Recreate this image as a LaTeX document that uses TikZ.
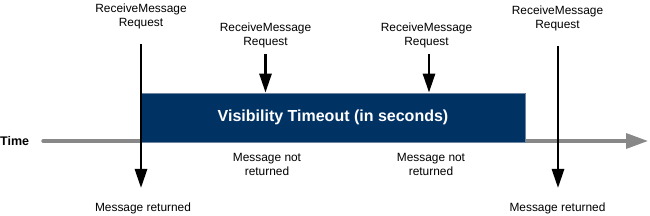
\documentclass[tikz,border=0pt]{standalone}
\usepackage{fontspec}
\setmainfont{Liberation Sans}
\usetikzlibrary{arrows.meta}
\definecolor{navy}{RGB}{0,50,100}
\definecolor{navyedge}{RGB}{110,132,160}
\definecolor{tgray}{RGB}{136,136,136}
\begin{document}
\begin{tikzpicture}[x=1pt,y=-1pt,
  lbl/.style={font=\fontsize{11.9}{14}\selectfont, align=center, inner sep=0pt},
  blackarrow/.style={black, line width=2.8pt, -{Triangle[length=19pt,width=12pt]}},
  timeline/.style={tgray, line width=3.4pt, line cap=round, -{Triangle[length=22pt,width=15pt]}},
  vbox/.style={fill=navy, draw=navyedge, line width=0.8pt, minimum width=384pt, minimum height=49pt, inner sep=0pt,
    text=white, font=\bfseries\fontsize{16}{19}\selectfont}]
\useasboundingbox (0,0) rectangle (650,216);
% timeline
\coordinate (t0) at (43,141);
\coordinate (t1) at (648,141);
\draw[timeline] (t0) -- (t1);
\node[anchor=west, inner sep=0pt, font=\bfseries\fontsize{12.5}{15}\selectfont] (time) at (0,141) {Time};
% box
\node[vbox] (box) at (333,117.5) {Visibility Timeout (in seconds)};
% labels
\node[lbl] (req1) at (141,16) {ReceiveMessage\\Request};
\node[lbl] (req2) at (265.5,35.5) {ReceiveMessage\\Request};
\node[lbl] (req3) at (426.5,35.5) {ReceiveMessage\\Request};
\node[lbl] (req4) at (557.5,18) {ReceiveMessage\\Request};
\node[lbl] (nr1) at (267,164.5) {Message not\\returned};
\node[lbl] (nr2) at (431,164.5) {Message not\\returned};
\node[lbl] (ret1) at (143,208) {Message returned};
\node[lbl] (ret2) at (557.5,208) {Message returned};
% arrows
\coordinate (a1s) at (141,44);
\coordinate (a1e) at (141,188);
\coordinate (a2s) at (265.5,54);
\coordinate (a3s) at (429,54);
\coordinate (a4s) at (558,46);
\coordinate (a4e) at (558,188);
\draw[blackarrow] (a1s) -- (a1e);
\draw[blackarrow] (a2s) -- (a2s |- box.north);
\draw[blackarrow] (a3s) -- (a3s |- box.north);
\draw[blackarrow] (a4s) -- (a4e);
\end{tikzpicture}
\end{document}
